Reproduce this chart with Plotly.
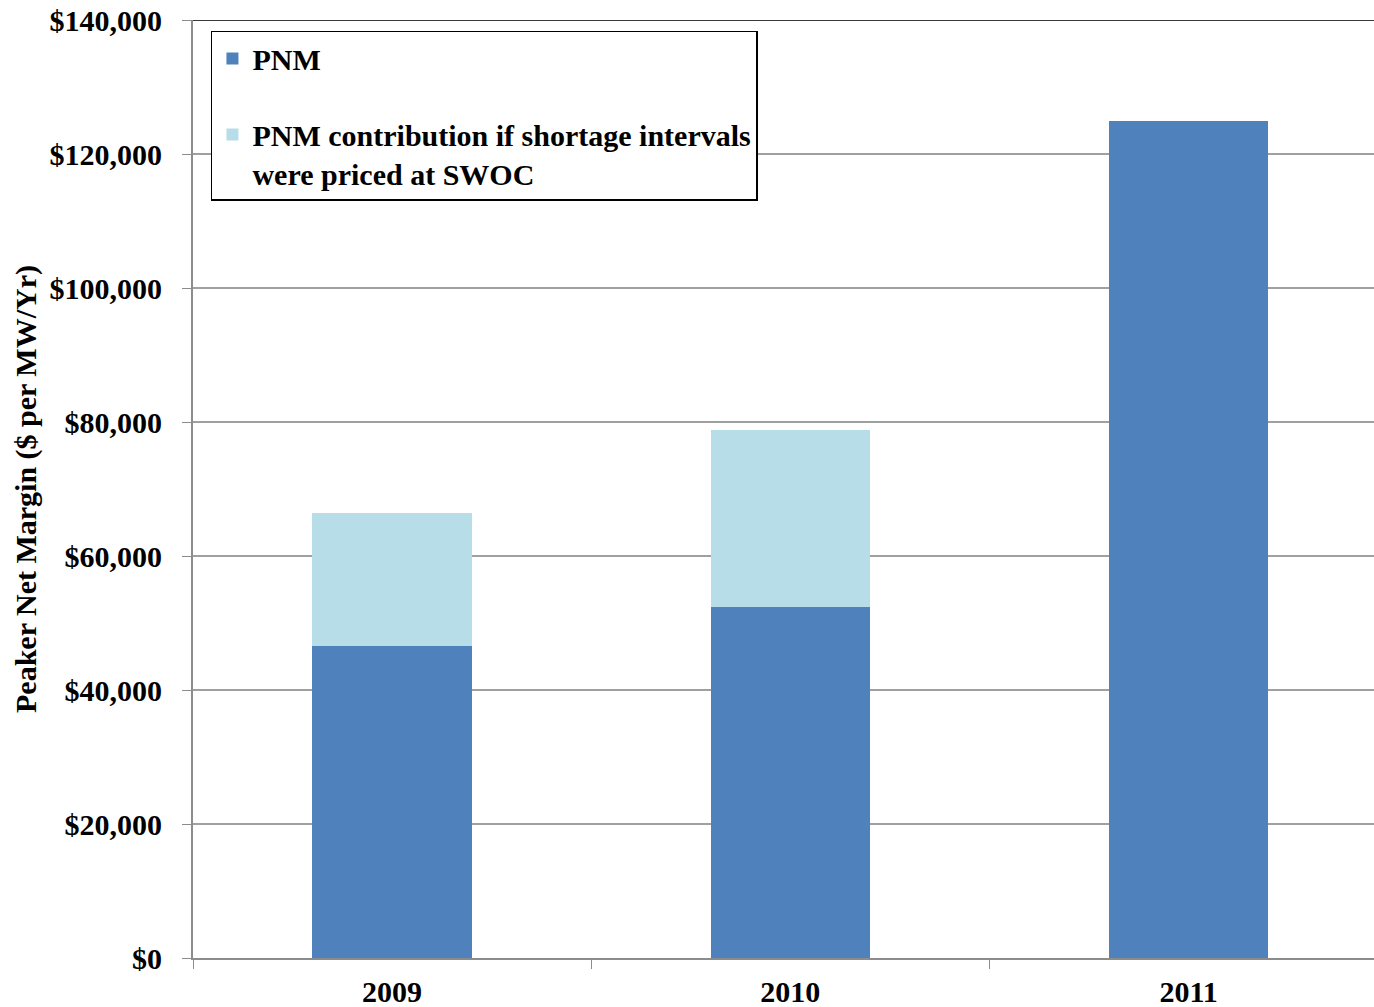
import plotly.graph_objects as go

years = ["2009", "2010", "2011"]
pnm = [46600, 52400, 125000]
shortage_extra = [19800, 26400, 0]
y_ticks = [0, 20000, 40000, 60000, 80000, 100000, 120000, 140000]
y_tick_labels = ["$0", "$20,000", "$40,000", "$60,000", "$80,000", "$100,000", "$120,000", "$140,000"]

font_family = "Liberation Serif"

fig = go.Figure()
fig.add_trace(go.Bar(
    x=years, y=pnm, name="PNM", marker=dict(color="#4F81BD", line=dict(width=0)),
    legendgroup="a",
))
fig.add_trace(go.Bar(
    x=years, y=shortage_extra,
    name="PNM contribution if shortage intervals<br>were priced at SWOC",
    marker=dict(color="#B7DEE8", line=dict(width=0)),
    legendgroup="b",
))

# dark top border line at the maximum of the value axis
fig.add_shape(type="line", xref="paper", x0=0, x1=1, yref="y",
              y0=y_ticks[-1], y1=y_ticks[-1],
              line=dict(color="#3A3A3A", width=2))

fig.update_layout(
    barmode="stack",
    bargap=0.6,
    width=1374, height=1007,
    margin=dict(l=193, r=0, t=20, b=49),
    plot_bgcolor="white", paper_bgcolor="white",
    font=dict(family=font_family, size=30, color="black", weight="bold"),
    showlegend=True,
    legend=dict(
        x=0.0152, y=0.9883, xanchor="left", yanchor="top",
        bgcolor="white", bordercolor="black", borderwidth=1.5,
        font=dict(family=font_family, size=30, color="black", weight="bold"),
        tracegroupgap=34,
        traceorder="grouped",
        valign="top",
    ),
    xaxis=dict(
        type="category",
        range=[-0.5, 2.4655],
        showline=True, linecolor="#8C8C8C", linewidth=2,
        ticks="outside", tickson="boundaries", ticklen=9, tickcolor="#8C8C8C",
        showgrid=False,
        ticklabelstandoff=6,
        tickfont=dict(family=font_family, size=30, color="black", weight="bold"),
    ),
    yaxis=dict(
        range=[0, 140000],
        tickvals=y_ticks, ticktext=y_tick_labels,
        showline=True, linecolor="#8C8C8C", linewidth=2,
        ticks="outside", ticklen=9, tickcolor="#8C8C8C",
        showgrid=True, gridcolor="#A0A0A0", gridwidth=1.5,
        zeroline=False,
        tickfont=dict(family=font_family, size=30, color="black", weight="bold"),
        ticklabelstandoff=14,
        title=dict(text="Peaker Net Margin ($ per MW/Yr)",
                   font=dict(family=font_family, size=30, color="black", weight="bold"),
                   standoff=4),
    ),
)

fig.write_html("out.html", config={"displayModeBar": False},
               post_script="document.body.style.margin='0';")
